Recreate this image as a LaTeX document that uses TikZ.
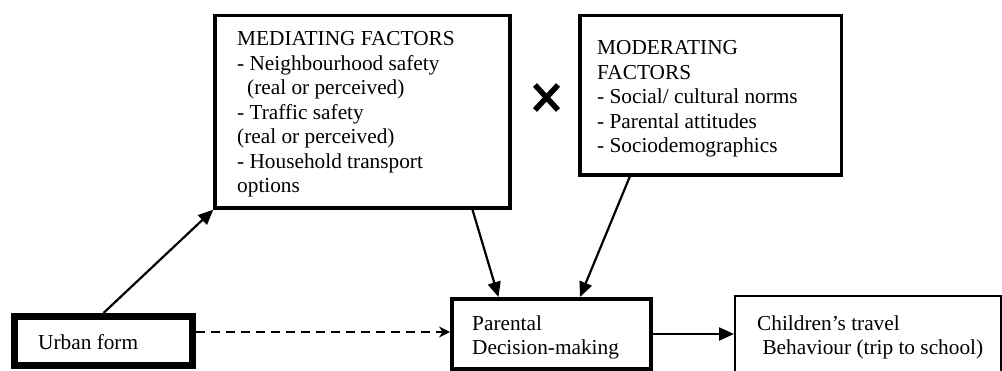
\documentclass[tikz,border=0pt]{standalone}
\usepackage{fontspec}
\setmainfont{Liberation Serif}
\usetikzlibrary{arrows.meta,positioning}

\begin{document}
\begin{tikzpicture}[x=1pt,y=-1pt,
    box/.style={draw,inner sep=0pt},
    txt/.style={anchor=base west,inner sep=0pt,align=left,font=\fontsize{21.3}{24.5}\selectfont},
    arr/.style={-{Triangle[length=15pt,width=13pt]},line width=2.2pt}]
    \useasboundingbox (0,0) rectangle (1002,371);
    % boxes
    \node[box,line width=3.5pt,minimum width=295pt,minimum height=192.5pt] (med) at (362.5,111.75) {};
    \node[box,line width=3.5pt,minimum width=261.5pt,minimum height=159.5pt] (mod) at (710.75,95.25) {};
    \node[box,line width=7pt,minimum width=178pt,minimum height=49.5pt] (urb) at (103.5,341.25) {};
    \node[box,line width=4pt,minimum width=199pt,minimum height=70pt] (par) at (551.5,334) {};
    \node[box,line width=2pt,minimum width=266pt,minimum height=80pt] (chi) at (868,336) {};
    % texts (anchored at the last baseline)
    \node[txt] (medtxt) at (237,193) {MEDIATING FACTORS\\- Neighbourhood safety\\\hspace{10pt}(real or perceived)\\- Traffic safety\\(real or perceived)\\- Household transport\\options};
    \node[txt] (modtxt) at (597,153) {MODERATING\\FACTORS\\- Social/ cultural norms\\- Parental attitudes\\- Sociodemographics};
    \node[txt] (urbtxt) at (38,350) {Urban form};
    \node[txt] (partxt) at (472,355) {Parental\\Decision-making};
    \node[txt] (chitxt) at (757,355) {Children’s travel\\\hspace{5.3pt}Behaviour (trip to school)};
    % times sign
    \coordinate (times) at (546.5,97.5);
    \draw[line width=5.5pt] ([xshift=-11.5pt,yshift=12.5pt]times) -- ([xshift=11.5pt,yshift=-12.5pt]times);
    \draw[line width=5.5pt] ([xshift=11.5pt,yshift=12.5pt]times) -- ([xshift=-11.5pt,yshift=-12.5pt]times);
    % arrows
    \draw[arr] (urb.north) -- (med.south west);
    \draw[line width=2pt,dashed,dash pattern=on 9pt off 6pt,-{Stealth[length=11pt,width=11pt]}] (urb.east |- par.west) ++(0,-2) -- ([yshift=2pt]par.west);
    \draw[arr] ([xshift=110pt]med.south) -- ([xshift=-53pt]par.north);
    \draw[arr] ([xshift=-81pt]mod.south) -- ([xshift=28.5pt]par.north);
    \draw[arr] (par.east) -- (par.east -| chi.west);
\end{tikzpicture}
\end{document}
